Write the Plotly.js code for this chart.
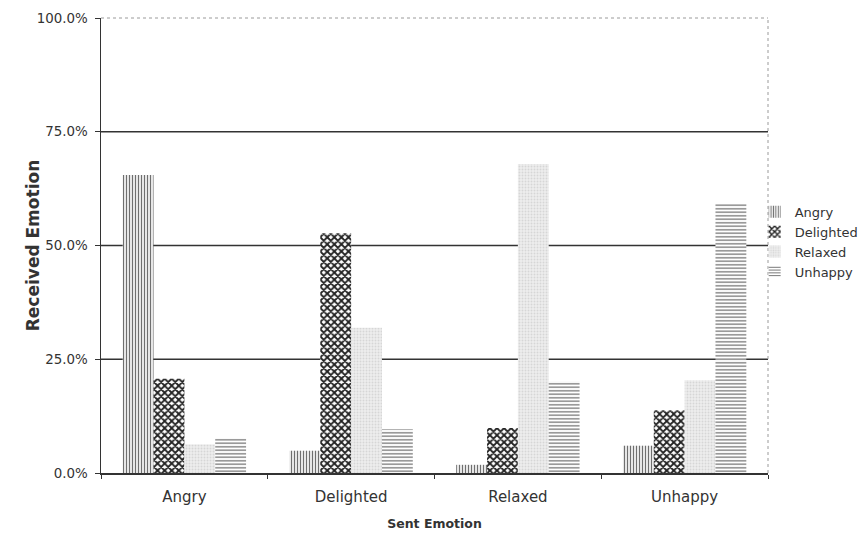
<!DOCTYPE html>
<html>
<head>
<meta charset="utf-8">
<script src="https://cdn.plot.ly/plotly-3.0.1.min.js"></script>
<style>
  html, body { margin: 0; padding: 0; background: #ffffff; }
  #chart { width: 862px; height: 534px; }
</style>
</head>
<body>
<div id="chart"></div>
<script>
// Sent emotion categories (x axis)
const sentEmotions = ["Angry", "Delighted", "Relaxed", "Unhappy"];

// Share of each received emotion for every sent emotion
const receivedAngry     = [0.655, 0.049, 0.018, 0.060];
const receivedDelighted = [0.207, 0.527, 0.099, 0.138];
const receivedRelaxed   = [0.063, 0.319, 0.679, 0.204];
const receivedUnhappy   = [0.076, 0.096, 0.201, 0.591];

// Y axis ticks
const yTickVals = [0, 0.25, 0.5, 0.75, 1.0];
const yTickText = ["0.0%", "25.0%", "50.0%", "75.0%", "100.0%"];

const textColor = "#333333";
const lineColor = "#333333";

function barTrace(name, values, pattern) {
  return {
    type: "bar",
    name: name,
    x: sentEmotions,
    y: values,
    marker: { color: pattern.bgcolor, line: { width: 0 }, pattern: pattern },
    hoverinfo: "skip"
  };
}

const traces = [
  barTrace("Angry", receivedAngry,
    { shape: "|", fgcolor: "#6f6f6f", bgcolor: "#ffffff", size: 3, solidity: 0.45, fillmode: "replace" }),
  barTrace("Delighted", receivedDelighted,
    { shape: "x", fgcolor: "#222222", bgcolor: "#ffffff", size: 5, solidity: 0.6, fillmode: "replace" }),
  barTrace("Relaxed", receivedRelaxed,
    { shape: ".", fgcolor: "#d6d6d6", bgcolor: "#eeeeee", size: 3, solidity: 0.3, fillmode: "replace" }),
  barTrace("Unhappy", receivedUnhappy,
    { shape: "-", fgcolor: "#6f6f6f", bgcolor: "#ffffff", size: 3.5, solidity: 0.35, fillmode: "replace" })
];

// Horizontal gridlines drawn behind the bars
const gridShapes = [0.25, 0.5, 0.75].map(v => ({
  type: "line", xref: "paper", yref: "y", x0: 0, x1: 1, y0: v, y1: v,
  line: { color: lineColor, width: 1.5 }, layer: "below"
}));

// Light dotted frame on the top and right of the plot area
const frameShapes = [
  { type: "line", xref: "paper", yref: "paper", x0: 0, x1: 1, y0: 1, y1: 1,
    line: { color: "#9a9a9a", width: 1, dash: "dot" }, layer: "below" },
  { type: "line", xref: "paper", yref: "paper", x0: 1, x1: 1, y0: 0, y1: 1,
    line: { color: "#9a9a9a", width: 1, dash: "dot" }, layer: "below" }
];

const layout = {
  width: 862,
  height: 534,
  margin: { l: 101, r: 94, t: 18, b: 61, autoexpand: false },
  paper_bgcolor: "#ffffff",
  plot_bgcolor: "#ffffff",
  font: { family: "DejaVu Sans, Verdana, sans-serif", color: textColor },
  barmode: "group",
  bargap: 0.26,
  bargroupgap: 0,
  showlegend: true,
  legend: {
    x: 0.98, xanchor: "left", y: 0.607, yanchor: "top",
    font: { size: 13, color: textColor },
    bgcolor: "rgba(0,0,0,0)", borderwidth: 0,
    tracegroupgap: 0
  },
  xaxis: {
    type: "category",
    tickson: "boundaries",
    ticks: "outside",
    ticklen: 4,
    tickcolor: lineColor,
    showline: true,
    linecolor: lineColor,
    linewidth: 1.5,
    showgrid: false,
    zeroline: false,
    ticklabelstandoff: 9,
    tickfont: { size: 15, color: textColor },
    title: { text: "<b>Sent Emotion</b>", font: { size: 12.5, color: textColor }, standoff: 14 }
  },
  yaxis: {
    range: [0, 1],
    tickvals: yTickVals,
    ticktext: yTickText,
    ticks: "outside",
    ticklen: 5,
    tickcolor: lineColor,
    showline: true,
    linecolor: lineColor,
    linewidth: 1.5,
    showgrid: false,
    zeroline: false,
    ticklabelstandoff: 4,
    tickfont: { size: 13.4, color: textColor },
    title: { text: "<b>Received Emotion</b>", font: { size: 17, color: textColor } }
  },
  shapes: gridShapes.concat(frameShapes)
};

Plotly.newPlot("chart", traces, layout, { displayModeBar: false, staticPlot: true });
</script>
</body>
</html>
